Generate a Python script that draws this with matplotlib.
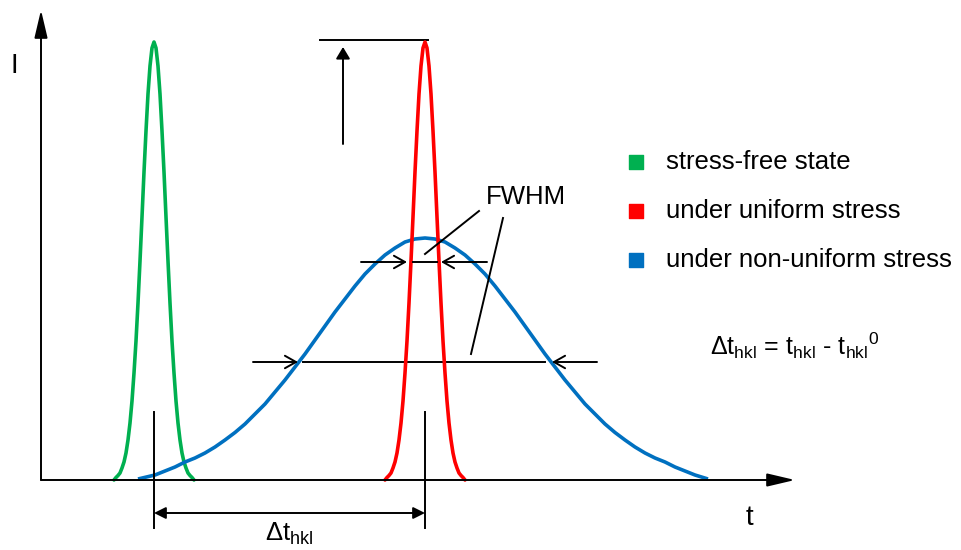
import matplotlib
matplotlib.use("Agg")
import matplotlib.pyplot as plt

plt.rcParams['font.family'] = ['Liberation Sans', 'DejaVu Sans']
plt.rcParams['mathtext.fontset'] = 'custom'
plt.rcParams['mathtext.rm'] = 'Liberation Sans'
plt.rcParams['mathtext.it'] = 'Liberation Sans'

# peak profile (t offset from peak centre, intensity)
narrow_dt = [-40, -38, -36, -34, -32, -30, -28, -26, -24, -22, -20, -18, -16, -14,
             -12, -10, -8, -6, -4, -2, 0, 2, 4, 6, 8, 10, 12, 14, 16, 18, 20,
             22, 24, 26, 28, 30, 32, 34, 36, 38, 40]
narrow_i = [0, 2.5, 4.5, 7, 12, 18, 27, 40, 57, 79, 107, 139, 177, 219,
            263, 308, 349, 386, 414, 432, 438, 432, 414, 386, 349, 308, 263, 219, 177, 139, 107,
            79, 57, 40, 27, 18, 12, 7, 4.5, 2.5, 0]

green_center = 113   # stress-free state
red_center = 384     # under uniform stress

blue_t = [97, 114, 124, 134, 144, 154, 164, 174, 184, 194, 204, 214, 224, 234, 244,
          254, 264, 274, 284, 294, 304, 314, 324, 334, 344, 354, 364, 374, 384,
          394, 404, 414, 424, 434, 444, 454, 464, 474, 484, 494, 504, 514, 524,
          534, 544, 554, 564, 574, 584, 594, 604, 614, 624, 634, 644, 654, 667]
blue_i = [1, 5, 9, 13, 18, 22, 27, 33, 40, 47.5, 56, 66, 76, 88, 100,
          113, 126, 140, 154, 168, 181, 194, 206, 216, 225, 232, 238, 241, 242,
          241, 238, 232, 225, 216, 206, 194, 181, 168, 154, 140, 126, 113, 100,
          88, 76, 66, 56, 47.5, 40, 33, 27, 22, 18, 13, 9, 5, 1]

labels = ['stress-free state', 'under uniform stress', 'under non-uniform stress']
colors = ['#00B050', '#FF0000', '#0070C0']

fig = plt.figure(figsize=(9.62, 5.5), dpi=100)
ax = fig.add_axes([0, 0, 1, 1])
ax.set_xlim(-41, 921)
ax.set_ylim(-70, 480)
ax.axis('off')

lw_c = 2.6
lw_k = 1.4
green_t = [green_center + d for d in narrow_dt]
red_t = [red_center + d for d in narrow_dt]
ax.plot(green_t, narrow_i, color=colors[0], lw=lw_c, solid_capstyle='round',
        solid_joinstyle='round', zorder=3)
ax.plot(blue_t, blue_i, color=colors[2], lw=lw_c, solid_capstyle='butt',
        solid_joinstyle='round', zorder=3)
ax.plot(red_t, narrow_i, color=colors[1], lw=lw_c, solid_capstyle='round',
        solid_joinstyle='round', zorder=4)


def arrow(tail, tip, style, **kw):
    ax.annotate('', xy=tip, xytext=tail,
                arrowprops=dict(arrowstyle=style, color='black', lw=lw_k,
                                shrinkA=0, shrinkB=0, mutation_scale=1, **kw),
                zorder=5)


filled = '-|>,head_length=17,head_width=4'
# axes
arrow((0, 0), (0, 470), filled)
arrow((0, 0), (754, 0), filled)
ax.text(-27, 414, 'I', fontsize=20, ha='center', va='center')
ax.text(708, -38, 't', fontsize=20, ha='center', va='center')

# peak height marker
ax.plot([279, 387], [440, 440], color='black', lw=lw_k)
arrow((302, 336), (302, 433), '-|>,head_length=7,head_width=4.2')

# FWHM markers
opened = '->,head_length=8,head_width=4.5'
arrow((320, 218), (366, 218), opened)
arrow((446, 218), (400, 218), opened)
ax.plot([372, 396], [218, 218], color='black', lw=lw_k, zorder=5)
arrow((212, 118), (257, 118), opened)
arrow((556, 118), (511, 118), opened)
ax.plot([262, 504], [118, 118], color='black', lw=lw_k, zorder=2)
ax.plot([438, 384], [269, 226], color='black', lw=lw_k, zorder=5)
ax.plot([462, 430], [262, 126], color='black', lw=lw_k, zorder=5)
ax.text(485, 283, 'FWHM', fontsize=18.5, ha='center', va='center')

# shift
ax.plot([green_center, green_center], [68, -48], color='black', lw=lw_k, zorder=5)
ax.plot([red_center, red_center], [68, -48], color='black', lw=lw_k, zorder=5)
arrow((green_center, -33), (red_center, -33), '<|-|>,head_length=7,head_width=3.5')
ax.text(248, -54, r'$\mathregular{\Delta t_{hkl}}$', fontsize=18.5, ha='center', va='center')

# legend
for k, (lab, col) in enumerate(zip(labels, colors)):
    yk = 318 - 49 * k
    ax.scatter([595], [yk], marker='s', s=115, color=col, zorder=5)
    ax.text(625, yk, lab, fontsize=18.5, ha='left', va='center')

ax.text(669, 134, r'$\mathregular{\Delta t_{hkl}\text{ = }t_{hkl}\text{ - }{t_{hkl}}^{0}}$',
        fontsize=18, ha='left', va='center')

fig.savefig('out.png', dpi=100)
